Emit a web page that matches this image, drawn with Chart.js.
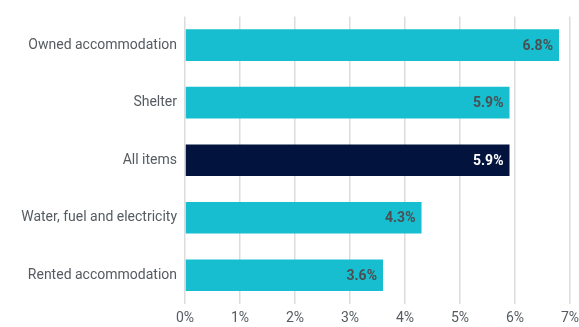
<!DOCTYPE html>
<html>
<head>
<meta charset="utf-8">
<script src="https://cdn.jsdelivr.net/npm/chart.js@4"></script>
<style>
html,body{margin:0;padding:0;background:#fff;}
#wrap{width:579px;height:327px;position:relative;}
</style>
</head>
<body>
<div id="wrap"><canvas id="c" width="579" height="327"></canvas></div>
<script>
const categories = ["Owned accommodation", "Shelter", "All items", "Water, fuel and electricity", "Rented accommodation"];
const values = [6.8, 5.9, 5.9, 4.3, 3.6];
const barColors = ["#17BECF", "#17BECF", "#02133E", "#17BECF", "#17BECF"];
const labelColors = ["#4a4f54", "#4a4f54", "#ffffff", "#4a4f54", "#4a4f54"];
const xTicks = [0, 1, 2, 3, 4, 5, 6, 7];

const valueLabels = {
  id: 'valueLabels',
  afterDatasetsDraw(chart) {
    const ctx = chart.ctx;
    const meta = chart.getDatasetMeta(0);
    ctx.save();
    ctx.font = 'bold 14px Roboto, sans-serif';
    ctx.textAlign = 'right';
    ctx.textBaseline = 'middle';
    meta.data.forEach((bar, i) => {
      ctx.fillStyle = labelColors[i];
      ctx.fillText(values[i].toFixed(1) + '%', bar.x - 6, bar.y + 1);
    });
    ctx.restore();
  }
};

new Chart(document.getElementById('c'), {
  type: 'bar',
  data: {
    labels: categories,
    datasets: [{
      data: values,
      backgroundColor: barColors,
      borderWidth: 0,
      barPercentage: 0.55,
      categoryPercentage: 1.0
    }]
  },
  options: {
    indexAxis: 'y',
    responsive: false,
    animation: false,
    layout: { padding: { top: 15, left: 0, right: 0, bottom: 0 } },
    plugins: { legend: { display: false }, tooltip: { enabled: false } },
    scales: {
      x: {
        min: 0, max: 7,
        afterBuildTicks(axis) { axis.ticks = xTicks.map(v => ({ value: v })); },
        afterFit(axis) { axis.paddingRight = 9; axis.height = 23; },
        grid: { color: '#dcdcdc', lineWidth: 1.5, drawTicks: false },
        border: { display: false },
        ticks: {
          color: '#555b60',
          font: { family: 'Roboto, sans-serif', size: 14 },
          padding: 6,
          callback: v => v + '%'
        }
      },
      y: {
        afterFit(axis) { axis.width = 185; },
        grid: { display: false, drawTicks: false },
        border: { display: false },
        ticks: {
          color: '#555b60',
          font: { family: 'Roboto, sans-serif', size: 14 },
          padding: 8
        }
      }
    }
  },
  plugins: [valueLabels]
});
</script>
</body>
</html>
